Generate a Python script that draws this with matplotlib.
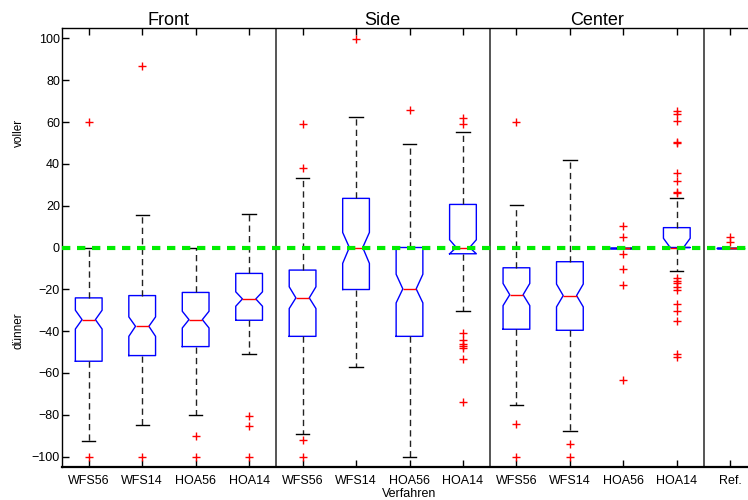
import matplotlib
matplotlib.use("Agg")
import matplotlib.pyplot as plt
from matplotlib import transforms

plt.rcParams['font.family'] = ['Liberation Sans', 'DejaVu Sans']

# ---- data ----
tick_labels = ['WFS56', 'WFS14', 'HOA56', 'HOA14',
               'WFS56', 'WFS14', 'HOA56', 'HOA14',
               'WFS56', 'WFS14', 'HOA56', 'HOA14', 'Ref.']
groups = ['Front', 'Side', 'Center']

q1 = [-54.4, -51.7, -47.4, -34.8, -42.5, -20.1, -42.5, -3.0, -39.1, -39.6, 0, 0, 0]
med = [-34.5, -37.7, -34.5, -24.6, -24.1, 0, -19.8, 0, -22.6, -23.0, 0, 0, 0]
q3 = [-24.1, -23.0, -21.5, -12.4, -10.8, 23.5, 0, 20.6, -9.7, -6.8, 0, 9.5, 0]
ci_lo = [-39.0, -42.5, -38.5, -28.1, -29.2, -7.6, -26.5, -3.0, -27.8, -28.4, 0, 0, 0]
ci_hi = [-30.0, -33.2, -30.5, -21.2, -18.8, 7.2, -12.8, 3.7, -17.2, -17.5, 0, 4.4, 0]
whis_lo = [-92.6, -85.1, -80.0, -50.8, -89.3, -57.3, -100.0, -30.5, -75.4, -88.0, 0, -11.1, 0]
whis_hi = [0, 15.5, 0, 16.2, 33.1, 62.6, 49.7, 55.4, 20.3, 41.9, 0, 23.5, 0]
fliers = [
    [60, -100],
    [86.6, -100],
    [-90, -100],
    [-80.8, -85.3, -100],
    [59, 38.2, -92.3, -100],
    [99.9],
    [66],
    [61.9, 59.1, -40.7, -44.2, -46.1, -47.1, -47.9, -53.2, -74.1],
    [59.8, -84.6, -100],
    [-94.2, -100],
    [10.3, 4.8, -3.0, -10.2, -17.9, -63.5],
    [65.4, 63.8, 60.6, 50.7, 50.2, 35.5, 31.8, 26.7, 26.2,
     -14.8, -15.9, -17.2, -18.8, -20.4, -27.1, -30.3, -35.1, -51.1, -52.4],
    [5.0, 2.4],
]

stats = []
for i in range(len(tick_labels)):
    stats.append(dict(q1=q1[i], med=med[i], q3=q3[i], cilo=ci_lo[i], cihi=ci_hi[i],
                      whislo=whis_lo[i], whishi=whis_hi[i], fliers=fliers[i]))

fig = plt.figure(figsize=(7.48, 5.0), dpi=100)
ax = fig.add_axes([62 / 748, 33 / 500, 695 / 748, 439 / 500])

pos = list(range(1, len(tick_labels) + 1))
ax.bxp(stats, positions=pos, widths=0.5, shownotches=True,
       boxprops=dict(color='#0000ff', linewidth=1),
       medianprops=dict(color='#ff0000', linewidth=1),
       whiskerprops=dict(color='#222222', linewidth=1, linestyle=(0, (4.5, 3))),
       capprops=dict(color='black', linewidth=1),
       flierprops=dict(marker='+', markeredgecolor='#ff0000', markersize=6,
                       markeredgewidth=1, linestyle='none'))

# group separators
for x in [4.5, 8.5, 12.5]:
    ax.axvline(x, color='#555555', linewidth=1.4, zorder=1)

# reference line
ax.axhline(0, color='#00ee00', linewidth=3, dashes=(2.0, 1.6), zorder=5)

ax.set_xlim(0.5, 13.5)
ax.set_ylim(-105, 105)
ax.set_yticks(range(-100, 101, 20))
ax.set_xticks(pos)
ax.set_xticklabels(tick_labels)
ax.tick_params(direction='in', length=5, width=1, top=True, right=True,
               labelsize=9)
ax.tick_params(axis='x', pad=6)
ax.tick_params(axis='y', pad=1.5)
ax.set_xlabel('Verfahren', fontsize=9, labelpad=0.5)

for sp in ax.spines.values():
    sp.set_linewidth(1)
ax.spines['bottom'].set_linewidth(1.6)

for i, g in enumerate(groups):
    ax.annotate(g, xy=(2.5 + 4 * i, 1.0), xycoords=('data', 'axes fraction'),
                xytext=(0, 2.5), textcoords='offset points',
                ha='center', va='baseline', fontsize=13)

trans = transforms.blended_transform_factory(fig.transFigure, ax.transData)
ax.text(18.5 / 748, 55, 'voller', rotation=90, ha='center', va='center',
        fontsize=8.5, transform=trans)
ax.text(18.5 / 748, -40, 'dünner', rotation=90, ha='center', va='center',
        fontsize=8.5, transform=trans)

fig.savefig('out.png', dpi=100)
